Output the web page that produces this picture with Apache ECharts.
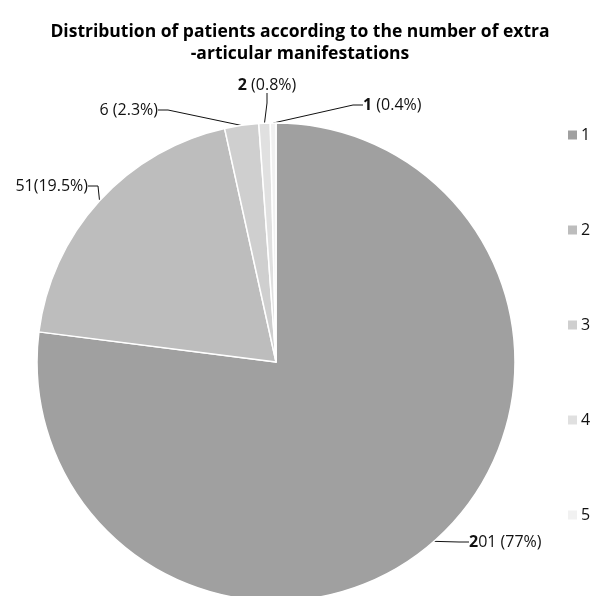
<!DOCTYPE html>
<html>
<head>
<meta charset="utf-8">
<script src="https://cdn.jsdelivr.net/npm/echarts@6/dist/echarts.min.js"></script>
<style>html,body{margin:0;padding:0;background:#fff;}#c{width:590px;height:596px;}</style>
</head>
<body>
<div id="c"></div>
<script>
var categories = ['1', '2', '3', '4', '5'];
var values = [201, 51, 6, 2, 1];
var labelTexts = ['201 (77%)', '51(19.5%)', '6 (2.3%)', '2 (0.8%)', '1 (0.4%)'];
var boldChars = [1, 0, 0, 1, 1];
var colors = ['#a0a0a0', '#bdbdbd', '#cfcfcf', '#e0e0e0', '#f1f1f1'];
// label anchor placement [x, y, align]
var labelPlace = [[469, 542, 'left'], [88, 186, 'right'], [158, 110, 'right'], [267, 85, 'center'], [363, 105, 'left']];

var chart = echarts.init(document.getElementById('c'), null, {renderer: 'canvas'});
var FONT = '"Open Sans", "Liberation Sans", sans-serif';
var data = categories.map(function (c, i) {
  return {name: c, value: values[i], itemStyle: {color: colors[i]}};
});
chart.setOption({
  animation: false,
  backgroundColor: '#fff',
  textStyle: {fontFamily: FONT},
  title: {
    text: 'Distribution of patients according to the number of extra\n-articular manifestations',
    left: 295,
    top: 16,
    textAlign: 'center',
    textStyle: {fontFamily: FONT, fontWeight: 'bold', fontSize: 17.5, color: '#000', lineHeight: 22}
  },
  legend: {
    orient: 'vertical',
    left: 561,
    top: 122,
    itemWidth: 11,
    itemHeight: 11,
    itemGap: 79,
    icon: 'rect',
    data: categories,
    textStyle: {fontFamily: FONT, fontSize: 16, color: '#111', lineHeight: 16, padding: [0, 0, 0, -2]}
  },
  series: [{
    type: 'pie',
    center: [276, 362],
    radius: 239,
    startAngle: 90,
    clockwise: true,
    data: data,
    itemStyle: {borderColor: '#fff', borderWidth: 1.5},
    emphasis: {disabled: true},
    label: {
      show: true,
      position: 'outside',
      overflow: 'none',
      fontFamily: FONT,
      fontSize: 16,
      color: '#111',
      formatter: function (p) {
        var t = labelTexts[p.dataIndex];
        var b = boldChars[p.dataIndex];
        if (b > 0) return '{b|' + t.slice(0, b) + '}{n|' + t.slice(b) + '}';
        return '{n|' + t + '}';
      },
      rich: {
        b: {fontFamily: FONT, fontSize: 16, fontWeight: 'bold', color: '#111'},
        n: {fontFamily: FONT, fontSize: 16, color: '#111'}
      }
    },
    labelLine: {show: true, length: 10, length2: 10, lineStyle: {color: '#111', width: 1}},
    labelLayout: function (params) {
      var p = labelPlace[params.dataIndex];
      return {x: p[0], y: p[1], align: p[2], verticalAlign: 'middle'};
    }
  }]
});
</script>
</body>
</html>
